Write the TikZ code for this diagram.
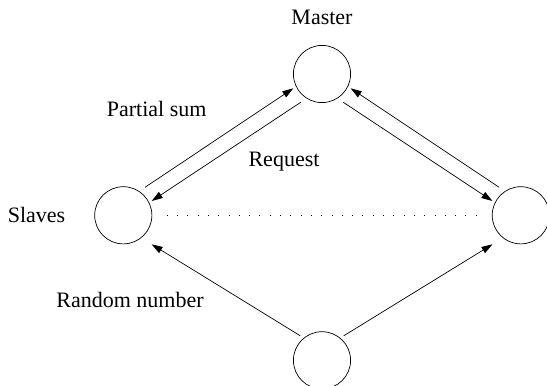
\documentclass[tikz,border=0pt]{standalone}
\usepackage{fontspec}
\setmainfont{Liberation Serif}
\usetikzlibrary{arrows.meta,calc}
\begin{document}
\begin{tikzpicture}[x=1pt,y=-1pt,
  peer/.style={circle,draw,line width=0.7pt,minimum size=57.2pt,inner sep=0pt},
  msg/.style={line width=0.7pt,-{Triangle[length=11pt,width=7pt]}},
  lbl/.style={font=\fontsize{22}{24}\selectfont,anchor=base,inner sep=0pt}]
\useasboundingbox (0,0) rectangle (547,386);

% processes
\node[peer] (m) at (322,74) {};
\node[peer] (l) at (123.3,215.3) {};
\node[peer] (r) at (520.8,215.3) {};
\node[peer] (b) at (322,360.3) {};

% master <-> slaves
\draw[msg] ($(l)+(21.7,-28)$) -- ($(m)+(-28.7,14.3)$);
\draw[msg] ($(m)+(-21.3,28.3)$) -- ($(l)+(28.4,-14.3)$);
\draw[msg] ($(r)+(-21.7,-28)$) -- ($(m)+(28.7,14.3)$);
\draw[msg] ($(m)+(21.3,28.3)$) -- ($(r)+(-28.4,-14.3)$);

% random number source -> slaves
\draw[msg] ($(b)+(-21.7,-24.5)$) -- ($(l)+(28.3,29)$);
\draw[msg] ($(b)+(21.7,-24.5)$) -- ($(r)+(-28.3,29)$);

% further slaves in between
\draw[line width=0.9pt,dash pattern=on 0.9pt off 9.4pt] ($(l)+(43.4,0.5)$) -- ($(r)+(-44.8,0.5)$);

% labels
\node[lbl] (tm) at (322,24) {Master};
\node[lbl] (tp) at (156.7,116.7) {Partial sum};
\node[lbl] (tr) at (284,166.7) {Request};
\node[lbl] (ts) at (36.5,222.7) {Slaves};
\node[lbl] (tn) at (130,307) {Random number};
\end{tikzpicture}
\end{document}
